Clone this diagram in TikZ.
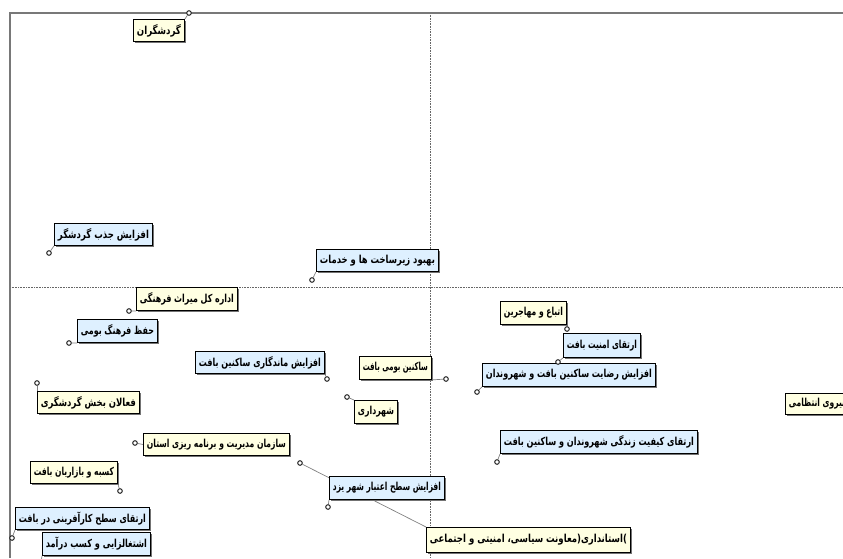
\documentclass[tikz,border=0pt]{standalone}
\usepackage{fontspec}
\usepackage{graphicx}
\usetikzlibrary{shadows}
\TeXXeTstate=1
\newfontfamily\arabicfont[Script=Arabic]{DejaVu Sans}
\definecolor{lblue}{RGB}{222,240,255}
\definecolor{cream}{RGB}{255,255,226}
\definecolor{framegray}{RGB}{120,120,120}
\newcommand\fa[1]{{\arabicfont\bfseries\fontsize{11}{12}\selectfont #1}}
\newlength\fitlen
\newcommand\fitw[2]{\settowidth\fitlen{\fa{#2}}\pgfmathsetmacro\fitsc{(#1)/\fitlen}\scalebox{\fitsc}[1]{\fa{#2}}}
\newcommand\lab[7]{\node[lbl, fill=#6, minimum width={#4-#2}, minimum height={#5-#3}] (#1) at (#2,#3) {\fitw{#4-#2-7}{#7}};}
\pgfdeclarelayer{bg}
\pgfsetlayers{bg,main}
\tikzset{
  lbl/.style={draw=black, line width=0.9pt, inner sep=0pt, anchor=north west,
    drop shadow={shadow xshift=1.6pt, shadow yshift=-1.6pt, fill=black!55, opacity=1}},
  pnt/.style={circle, draw=black!85, fill=white, line width=1pt, inner sep=0pt, minimum size=4.6pt},
  leader/.style={draw=black!50, line width=0.7pt},
  frame/.style={draw=framegray, line width=1.2pt},
  axis/.style={draw=black!60, line width=0.6pt, densely dotted}
}
\begin{document}
\begin{tikzpicture}[x=1pt,y=-1pt]
\useasboundingbox (0,0) rectangle (843,558);
\clip (0,0) rectangle (843,558);
% frame and axes
\coordinate (ftr) at (843,13);
\coordinate (ftl) at (10,13);
\coordinate (fbl) at (10,558);
\coordinate (vt) at (430,13);
\coordinate (vb) at (430,558);
\coordinate (hl) at (10,287);
\coordinate (hr) at (843,287);
\draw[axis] (vt) -- (vb);
\draw[axis] (hl) -- (hr);
\draw[frame] (ftr) -- (ftl) -- (fbl);
% labels
\lab{n1}{133}{19}{184}{41}{cream}{\beginR گردشگران\endR}
\lab{n2}{54}{223}{152}{245}{lblue}{\beginR افزایش جذب گردشگر\endR}
\lab{n3}{316}{249}{438}{271}{lblue}{\beginR بهبود زیرساخت ها و خدمات\endR}
\lab{n4}{136}{287}{237}{310}{cream}{\beginR اداره کل میراث فرهنگی\endR}
\lab{n5}{77}{319}{157}{342}{lblue}{\beginR حفظ فرهنگ بومی\endR}
\lab{n6}{195}{351}{324}{373}{lblue}{\beginR افزایش ماندگاری ساکنین بافت\endR}
\lab{n7}{359}{356}{431}{379}{cream}{\beginR ساکنین بومی بافت\endR}
\lab{n8}{500}{301}{566}{324}{cream}{\beginR اتباع و مهاجرین\endR}
\lab{n9}{563}{333}{640}{357}{lblue}{\beginR ارتقای امنیت بافت\endR}
\lab{n10}{482}{363}{655}{386}{lblue}{\beginR افزایش رضایت ساکنین بافت و شهروندان\endR}
\lab{n11}{354}{400}{397}{423}{cream}{\beginR شهرداری\endR}
\lab{n12}{37}{391}{139}{413}{cream}{\beginR فعالان بخش گردشگری\endR}
\lab{n13}{143}{433}{289}{455}{cream}{\beginR سازمان مدیریت و برنامه ریزی استان\endR}
\lab{n14}{30}{461}{117}{483}{cream}{\beginR کسبه و بازاریان بافت\endR}
\lab{n15}{15}{507}{149}{529}{lblue}{\beginR ارتقای سطح کارآفرینی در بافت\endR}
\lab{n16}{42}{532}{150}{555}{lblue}{\beginR اشتغالزایی و کسب درآمد\endR}
\lab{n17}{329}{476}{444}{499}{lblue}{\beginR افزایش سطح اعتبار شهر یزد\endR}
\lab{n18}{426}{527}{630}{552}{cream}{\beginR )استانداری(معاونت سیاسی، امنیتی و اجتماعی\endR}
\lab{n19}{500}{430}{697}{453}{lblue}{\beginR ارتقای کیفیت زندگی شهروندان و ساکنین بافت\endR}
\lab{n20}{785}{393}{848}{414}{cream}{\beginR نیروی انتظامی\endR}
% points
\node[pnt] (p1) at (189,13) {};
\node[pnt] (p2) at (49,253) {};
\node[pnt] (p3) at (312,280) {};
\node[pnt] (p4) at (129,311) {};
\node[pnt] (p5) at (69,343) {};
\node[pnt] (p6) at (327,379) {};
\node[pnt] (p7) at (446,379) {};
\node[pnt] (p8) at (567,329) {};
\node[pnt] (p9) at (558,362) {};
\node[pnt] (p10) at (477,392) {};
\node[pnt] (p11) at (347,397) {};
\node[pnt] (p12) at (37,383) {};
\node[pnt] (p13) at (135,443) {};
\node[pnt] (p14) at (120,491) {};
\node[pnt] (p15) at (12,538) {};
\node[pnt] (p16) at (41,563) {};
\node[pnt] (p17) at (328,507) {};
\node[pnt] (p18) at (300,463) {};
\node[pnt] (p19) at (497,462) {};
% leaders
\begin{pgfonlayer}{bg}
\draw[leader] (p1) -- (n1.north east);
\draw[leader] (p2) -- (n2.south west);
\draw[leader] (p3) -- (n3.south west);
\draw[leader] (p4) -- (n4.south west);
\draw[leader] (p5) -- (n5.south west);
\draw[leader] (p6) -- (n6.south east);
\draw[leader] (p7) -- (n7.south east);
\draw[leader] (p8) -- (n8.south east);
\draw[leader] (p9) -- (n9.south west);
\draw[leader] (p10) -- (n10.south west);
\draw[leader] (p11) -- (n11.north west);
\draw[leader] (p12) -- (n12.north west);
\draw[leader] (p13) -- (n13.west);
\draw[leader] (p14) -- (n14.south east);
\draw[leader] (p15) -- (n15.south west);
\draw[leader] (p16) -- (n16.south west);
\draw[leader] (p17) -- (n17.south west);
\draw[leader] (p18) -- (n18.north west);
\draw[leader] (p19) -- (n19.south west);
\end{pgfonlayer}
\end{tikzpicture}
\end{document}
